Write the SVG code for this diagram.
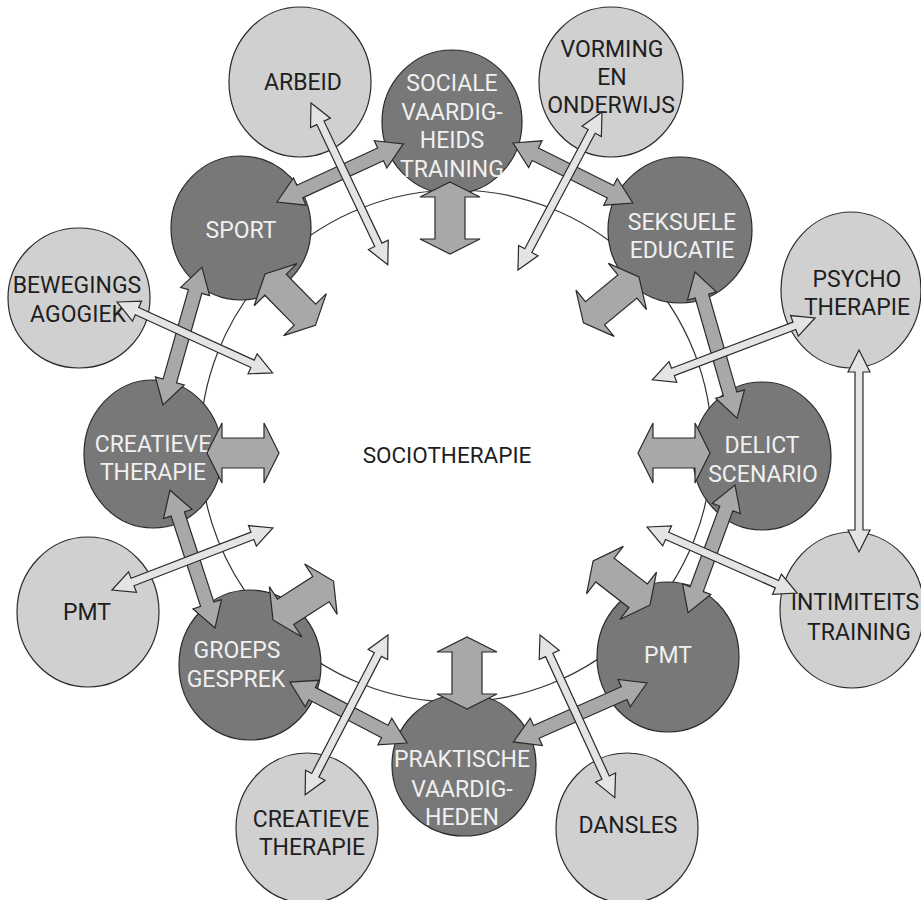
<svg xmlns="http://www.w3.org/2000/svg" xmlns:xlink="http://www.w3.org/1999/xlink" width="921" height="900" viewBox="0 0 921 900">
<style>
.bg{fill:#ffffff}
.ring{fill:#ffffff;stroke:#333333;stroke-width:1.2}
.dark{fill:#787878;stroke:#2a2a2a;stroke-width:1.2}
.light{fill:#d0d0d0;stroke:#2a2a2a;stroke-width:1.2}
.tw{font-family:Roboto,"Liberation Sans",sans-serif;font-size:23px;fill:#f0f0f0;text-anchor:middle}
.tb{font-family:Roboto,"Liberation Sans",sans-serif;font-size:23px;fill:#1e1e1e;text-anchor:middle}
.tc{font-family:Roboto,"Liberation Sans",sans-serif;font-size:22.5px;fill:#1e1e1e;text-anchor:middle}
.am{fill:#a8a8a8;stroke:#2a2a2a;stroke-width:1.2;stroke-linejoin:miter}
.al{fill:#e4e4e4;stroke:#2a2a2a;stroke-width:1.2;stroke-linejoin:miter}
.at{fill:#a8a8a8;stroke:#2a2a2a;stroke-width:1.2;stroke-linejoin:miter}
</style>
<defs>
<path id="thick" d="M0,0 L15,-30 L15,-15 L57,-15 L57,-30 L72,0 L57,30 L57,15 L15,15 L15,30 Z"/>
</defs>
<rect class="bg" x="0" y="0" width="921" height="900"/>

<g id="sociotherapie">
<circle class="ring" cx="456" cy="446" r="256"/>
<text class="tc" x="447" y="463">SOCIOTHERAPIE</text>
</g>

<g id="sociale-vaardigheidstraining">
<ellipse class="dark" cx="452" cy="122" rx="70" ry="72"/>
<text class="tw" x="452" y="91">SOCIALE</text>
<text class="tw" x="452" y="120">VAARDIG-</text>
<text class="tw" x="452" y="148">HEIDS</text>
<text class="tw" x="452" y="177">TRAINING</text>
</g>
<g id="sport">
<ellipse class="dark" cx="241" cy="228" rx="70" ry="72"/>
<text class="tw" x="241" y="238">SPORT</text>
</g>
<g id="seksuele-educatie">
<ellipse class="dark" cx="680" cy="230" rx="72" ry="73"/>
<text class="tw" x="682" y="230">SEKSUELE</text>
<text class="tw" x="682" y="258">EDUCATIE</text>
</g>
<g id="creatieve-therapie-dark">
<ellipse class="dark" cx="153" cy="454" rx="69" ry="74"/>
<text class="tw" x="153" y="452">CREATIEVE</text>
<text class="tw" x="153" y="480">THERAPIE</text>
</g>
<g id="delict-scenario">
<ellipse class="dark" cx="762" cy="456" rx="69" ry="74"/>
<text class="tw" x="762" y="453">DELICT</text>
<text class="tw" x="763" y="482">SCENARIO</text>
</g>
<g id="groeps-gesprek">
<ellipse class="dark" cx="250" cy="665" rx="71" ry="75"/>
<text class="tw" x="237" y="658">GROEPS</text>
<text class="tw" x="236" y="687">GESPREK</text>
</g>
<g id="praktische-vaardigheden">
<ellipse class="dark" cx="464" cy="765" rx="72" ry="71"/>
<text class="tw" x="462" y="767">PRAKTISCHE</text>
<text class="tw" x="462" y="797">VAARDIG-</text>
<text class="tw" x="462" y="825">HEDEN</text>
</g>
<g id="pmt-dark">
<ellipse class="dark" cx="668" cy="657" rx="71" ry="75"/>
<text class="tw" x="668" y="663">PMT</text>
</g>

<g id="arbeid">
<ellipse class="light" cx="300" cy="82" rx="71" ry="75"/>
<text class="tb" x="303" y="90">ARBEID</text>
</g>
<g id="vorming-en-onderwijs">
<ellipse class="light" cx="611" cy="82" rx="72" ry="75"/>
<text class="tb" x="612" y="57">VORMING</text>
<text class="tb" x="612" y="85">EN</text>
<text class="tb" x="611" y="113">ONDERWIJS</text>
</g>
<g id="psychotherapie">
<ellipse class="light" cx="851" cy="290" rx="70" ry="78"/>
<text class="tb" x="857" y="287">PSYCHO</text>
<text class="tb" x="857" y="315">THERAPIE</text>
</g>
<g id="bewegingsagogiek">
<ellipse class="light" cx="79" cy="298" rx="71" ry="70"/>
<text class="tb" x="77" y="293">BEWEGINGS</text>
<text class="tb" x="78" y="322">AGOGIEK</text>
</g>
<g id="pmt-light">
<ellipse class="light" cx="88" cy="612" rx="71" ry="75"/>
<text class="tb" x="87" y="620">PMT</text>
</g>
<g id="creatieve-therapie-light">
<ellipse class="light" cx="307" cy="828" rx="71" ry="75"/>
<text class="tb" x="311" y="827">CREATIEVE</text>
<text class="tb" x="312" y="855">THERAPIE</text>
</g>
<g id="dansles">
<ellipse class="light" cx="627" cy="828" rx="71" ry="75"/>
<text class="tb" x="628" y="833">DANSLES</text>
</g>
<g id="intimiteitstraining">
<ellipse class="light" cx="852" cy="610" rx="72" ry="78"/>
<text class="tb" x="855" y="610">INTIMITEITS</text>
<text class="tb" x="859" y="640">TRAINING</text>
</g>

<g id="connectors">
<path class="am" transform="translate(277,202) rotate(-24.7)" d="M0,0 L25,-15 L25,-7 L114,-7 L114,-15 L139,0 L114,15 L114,7 L25,7 L25,15 Z"/>
<path class="am" transform="translate(513,143) rotate(26.6)" d="M0,0 L25,-15 L25,-7 L109,-7 L109,-15 L134,0 L109,15 L109,7 L25,7 L25,15 Z"/>
<path class="am" transform="translate(695,272) rotate(73.95)" d="M0,0 L25,-15 L25,-7 L127,-7 L127,-15 L152,0 L127,15 L127,7 L25,7 L25,15 Z"/>
<path class="am" transform="translate(735,485) rotate(110.2)" d="M0,0 L25,-15 L25,-7 L111,-7 L111,-15 L136,0 L111,15 L111,7 L25,7 L25,15 Z"/>
<path class="am" transform="translate(647,683) rotate(156.2)" d="M0,0 L25,-15 L25,-7 L121,-7 L121,-15 L146,0 L121,15 L121,7 L25,7 L25,15 Z"/>
<path class="am" transform="translate(407,743) rotate(207.5)" d="M0,0 L25,-15 L25,-7 L107,-7 L107,-15 L132,0 L107,15 L107,7 L25,7 L25,15 Z"/>
<path class="am" transform="translate(215,628) rotate(-108.1)" d="M0,0 L25,-15 L25,-7 L120,-7 L120,-15 L145,0 L120,15 L120,7 L25,7 L25,15 Z"/>
<path class="am" transform="translate(163,405) rotate(-74.2)" d="M0,0 L25,-15 L25,-7 L118,-7 L118,-15 L143,0 L118,15 L118,7 L25,7 L25,15 Z"/>
<use xlink:href="#thick" href="#thick" class="at" transform="translate(450,182) rotate(90)"/>
<use xlink:href="#thick" href="#thick" class="at" transform="translate(467,709) rotate(-90)"/>
<use xlink:href="#thick" href="#thick" class="at" transform="translate(207,453) rotate(0)"/>
<use xlink:href="#thick" href="#thick" class="at" transform="translate(710,453) rotate(180)"/>
<use xlink:href="#thick" href="#thick" class="at" transform="translate(265,274) rotate(45.5)"/>
<use xlink:href="#thick" href="#thick" class="at" transform="translate(639,277) rotate(140.5)"/>
<use xlink:href="#thick" href="#thick" class="at" transform="translate(650,605) rotate(217.8)"/>
<use xlink:href="#thick" href="#thick" class="at" transform="translate(273,620) rotate(-32.8)"/>
<path class="al" transform="translate(311,103) rotate(64.6)" d="M0,0 L22,-11 L22,-4 L157,-4 L157,-11 L179,0 L157,11 L157,4 L22,4 L22,11 Z"/>
<path class="al" transform="translate(602,112) rotate(118)" d="M0,0 L22,-11 L22,-4 L157,-4 L157,-11 L179,0 L157,11 L157,4 L22,4 L22,11 Z"/>
<path class="al" transform="translate(117,302) rotate(24.5)" d="M0,0 L22,-11 L22,-4 L149,-4 L149,-11 L171,0 L149,11 L149,4 L22,4 L22,11 Z"/>
<path class="al" transform="translate(112,590) rotate(-21.1)" d="M0,0 L22,-11 L22,-4 L150.5,-4 L150.5,-11 L172.5,0 L150.5,11 L150.5,4 L22,4 L22,11 Z"/>
<path class="al" transform="translate(388,635) rotate(117.4)" d="M0,0 L22,-11 L22,-4 L158,-4 L158,-11 L180,0 L158,11 L158,4 L22,4 L22,11 Z"/>
<path class="al" transform="translate(540,635) rotate(65.3)" d="M0,0 L22,-11 L22,-4 L157,-4 L157,-11 L179,0 L157,11 L157,4 L22,4 L22,11 Z"/>
<path class="al" transform="translate(647,527) rotate(23.75)" d="M0,0 L22,-11 L22,-4 L142,-4 L142,-11 L164,0 L142,11 L142,4 L22,4 L22,11 Z"/>
<path class="al" transform="translate(815,318) rotate(159.2)" d="M0,0 L22,-11 L22,-4 L152,-4 L152,-11 L174,0 L152,11 L152,4 L22,4 L22,11 Z"/>
<path class="al" transform="translate(859,350) rotate(90)" d="M0,0 L22,-11 L22,-4 L180,-4 L180,-11 L202,0 L180,11 L180,4 L22,4 L22,11 Z"/>
</g>
</svg>
